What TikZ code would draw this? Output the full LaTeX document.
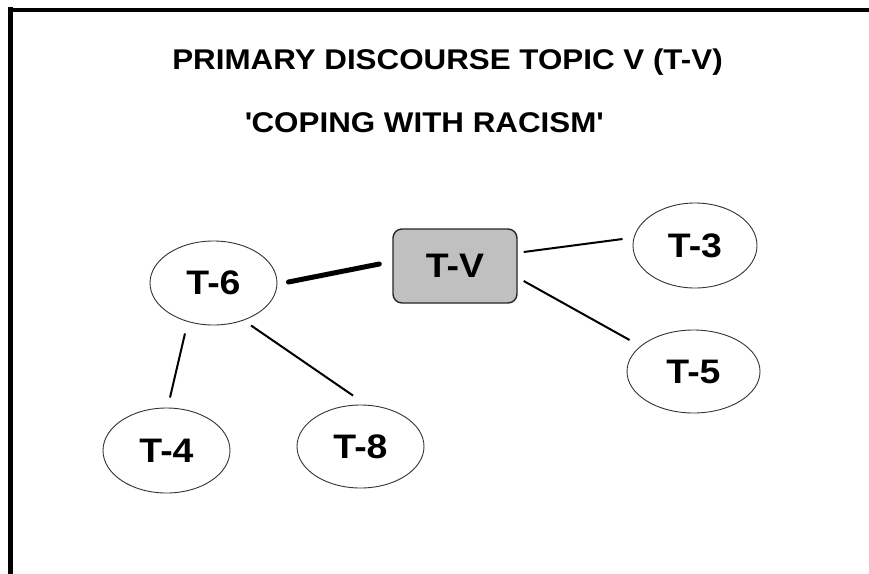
\documentclass[tikz,border=0pt]{standalone}
\usepackage{fontspec}
\setmainfont{Liberation Sans}[FakeStretch=1.1]
\usetikzlibrary{shapes.geometric,calc}
\definecolor{boxgray}{HTML}{C0C0C0}
\tikzset{
  topic/.style={ellipse,draw=black!80,line width=0.9pt,inner sep=0pt,
    font=\fontsize{34}{34}\selectfont\bfseries},
  hub/.style={rectangle,rounded corners=9pt,draw=black!85,line width=1.4pt,
    fill=boxgray,minimum width=124pt,minimum height=74pt,inner sep=0pt,
    font=\fontsize{34}{34}\selectfont\bfseries},
  link/.style={line width=2pt},
  strong/.style={line width=5pt,line cap=round},
  heading/.style={anchor=base,inner sep=0pt,font=\fontsize{28.5}{28.5}\selectfont\bfseries}
}
\begin{document}
\begin{tikzpicture}[x=1pt,y=-1pt]
\useasboundingbox (0,0) rectangle (869,573);
\fill[white] (0,0) rectangle (869,573);
% frame
\draw[line width=5pt] (10.5,580) -- (10.5,7);
\draw[line width=4pt] (8,9.5) -- (875,9.5);
% headings
\node[heading] (title) at (447.5,69) {PRIMARY DISCOURSE TOPIC V (T-V)};
\node[heading] (subtitle) at (424,132) {\textquotesingle COPING WITH RACISM\textquotesingle};
% topics
\node[hub] (tv) at (455,266) {T-V};
\node[topic,minimum width=127pt,minimum height=84pt] (t6) at (213.5,283) {T-6};
\node[topic,minimum width=124pt,minimum height=85pt] (t3) at (695,245.5) {T-3};
\node[topic,minimum width=133pt,minimum height=83pt] (t5) at (693.5,371.5) {T-5};
\node[topic,minimum width=127pt,minimum height=85pt] (t4) at (166.5,450.5) {T-4};
\node[topic,minimum width=127pt,minimum height=83pt] (t8) at (360.5,446.5) {T-8};
% links
\draw[strong] ($(t6.east)+(11,-1)$) -- ($(tv.west)+(-13,-2)$);
\draw[link] ($(tv.east)+(6,-14)$) -- ($(t3.west)+(-10,-6.5)$);
\draw[link] ($(tv.east)+(6,15)$) -- ($(t5.west)+(3,-31.5)$);
\draw[link] ($(t6.south)+(-28.5,8)$) -- ($(t4.north)+(3.5,-10)$);
\draw[link] ($(t6.south)+(37.5,0)$) -- ($(t8.north)+(-7.5,-9)$);
\end{tikzpicture}
\end{document}
